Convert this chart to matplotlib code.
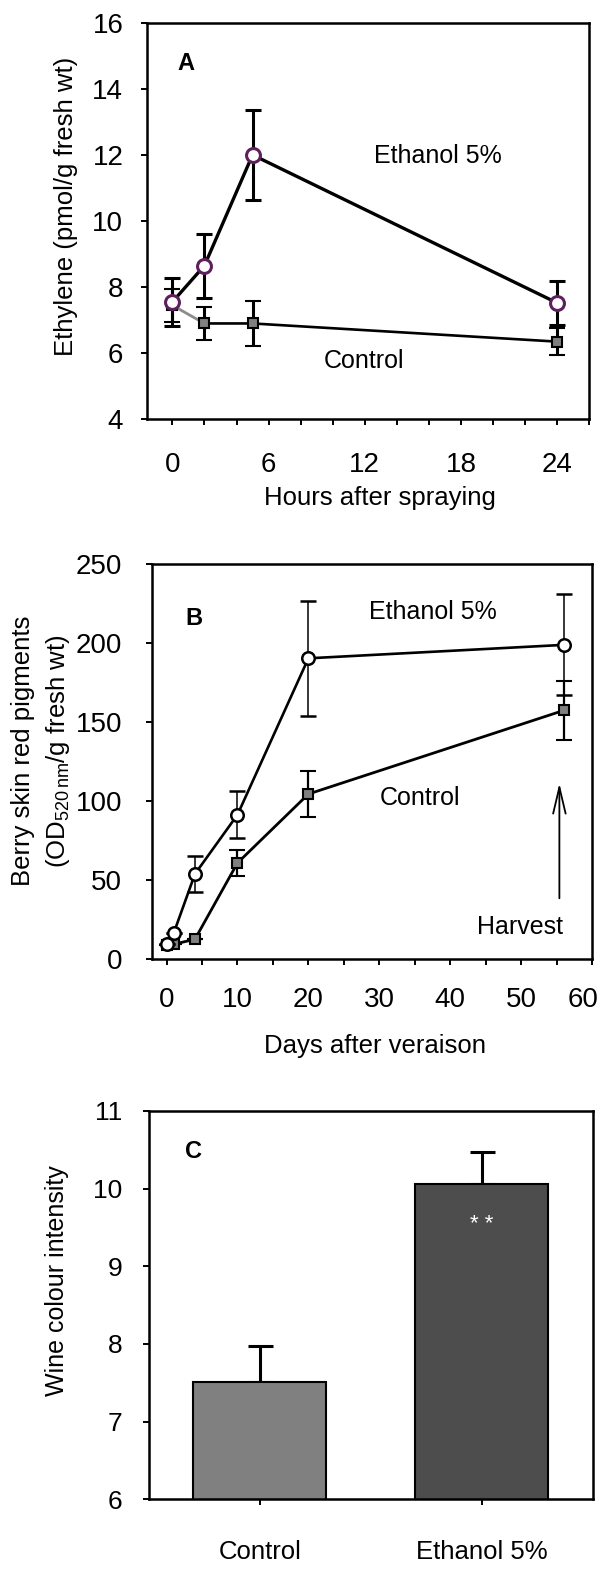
"""
Three stacked panels: ethylene after spraying (A), berry skin red pigments (B)
and wine colour intensity (C), control vs ethanol 5%.
"""
import matplotlib
matplotlib.use("Agg")
import matplotlib.pyplot as plt

plt.rcParams['font.family'] = ['Liberation Sans', 'DejaVu Sans']
plt.rcParams['mathtext.fontset'] = 'custom'
plt.rcParams['mathtext.rm'] = 'Liberation Sans'
plt.rcParams['mathtext.it'] = 'Liberation Sans:italic'

# Panel A: ethylene (pmol/g fresh wt) vs hours after spraying
hours = [0, 2, 5, 24]
eth_a = [7.55, 8.65, 12.0, 7.52]
eth_a_err = [0.72, 0.97, 1.37, 0.67]
ctrl_a = [7.45, 6.9, 6.9, 6.35]
ctrl_a_err = [0.5, 0.5, 0.67, 0.4]

# Panel B: red pigments vs days after veraison
days = [0, 1, 4, 10, 20, 56]
eth_b = [10, 16.5, 54, 91.5, 190.5, 199]
eth_b_err = [0, 0, 11.6, 15, 36.4, 32]
ctrl_b = [9, 9.5, 12.7, 61, 104.6, 157.5]
ctrl_b_err = [0, 0, 0, 8.2, 14.6, 18.5]
day_ticks = [0, 10, 20, 30, 40, 50, 60]

# Panel C: wine colour intensity
groups = ['Control', 'Ethanol 5%']
wine = [7.51, 10.06]
wine_err = [0.47, 0.41]
bar_colors = ['#808080', '#4d4d4d']

W, H = 602, 1593


def px_axes(fig, left, top, right, bottom):
    return fig.add_axes([left / W, 1 - bottom / H, (right - left) / W, (bottom - top) / H])


def style_axes(ax, xpad, ypad, size):
    for s in ax.spines.values():
        s.set_linewidth(1.8)
    ax.tick_params(which='both', direction='out', length=4.3, width=1.4,
                   labelsize=size)
    ax.tick_params(axis='x', which='both', pad=xpad, top=False)
    ax.tick_params(axis='y', which='both', pad=ypad, right=False)


fig = plt.figure(figsize=(W / 100, H / 100), dpi=100)

# ---------------- A ----------------
ax = px_axes(fig, 146.7, 22.7, 589.3, 419.3)
ax.plot(hours[:2], ctrl_a[:2], color='#8c8c8c', lw=2.0, zorder=2)
ax.plot(hours[1:], ctrl_a[1:], color='black', lw=1.9, zorder=2)
ax.errorbar(hours, ctrl_a, yerr=ctrl_a_err, fmt='s', ms=6.8, mfc='#808080',
            mec='black', mew=1.5, ecolor='black', elinewidth=2.2, capsize=6,
            capthick=2.2, zorder=3)
ax.errorbar(hours, eth_a, yerr=eth_a_err, fmt='-o', color='black', lw=2.4,
            ms=10, mfc='white', mec='#5e1f5e', mew=2.2, ecolor='black',
            elinewidth=2.2, capsize=6, capthick=2.2, zorder=4)
ax.set_xlim(-1.6, 26)
ax.set_ylim(4, 16)
ax.set_xticks([0, 6, 12, 18, 24])
ax.set_xticks(range(0, 27, 2), minor=True)
ax.set_yticks(range(4, 17, 2))
style_axes(ax, 19, 12.5, 20)
ax.set_ylabel('Ethylene (pmol/g fresh wt)', fontsize=18.5)
ax.yaxis.set_label_coords(-0.156, 0.538)
ax.set_xlabel('Hours after spraying', fontsize=18.5, va='baseline')
ax.xaxis.set_label_coords(0.527, -0.216)
ax.text(0.29, 14.77, 'A', fontsize=17, fontweight='bold', va='center', ha='left')
ax.text(12.55, 11.97, 'Ethanol 5%', fontsize=18, va='center', ha='left')
ax.text(9.43, 5.76, 'Control', fontsize=18, va='center', ha='left')

# ---------------- B ----------------
ax = px_axes(fig, 151.7, 564.3, 592.0, 959.3)
ax.errorbar(days, ctrl_b, yerr=ctrl_b_err, fmt='-s', color='black', lw=2.0,
            ms=7.8, mfc='#808080', mec='black', mew=1.5, ecolor='black',
            elinewidth=1.6, capsize=6, capthick=1.6, zorder=3)
ax.errorbar(days, eth_b, yerr=eth_b_err, fmt='-o', color='black', lw=1.9,
            ms=9, mfc='white', mec='black', mew=1.8, ecolor='black',
            elinewidth=1.1, capsize=6, capthick=1.4, zorder=4)
ax.set_xlim(-2.1, 60)
ax.set_ylim(0, 250)
ax.set_xticks(day_ticks)
# last label sits against the figure edge, so it is drawn right-aligned below
ax.set_xticklabels([str(d) for d in day_ticks[:-1]] + [''])
ax.set_xticks(range(0, 61, 5), minor=True)
ax.set_yticks(range(0, 251, 50))
style_axes(ax, 15.4, 17, 20)
ax.annotate(str(day_ticks[-1]), xy=(day_ticks[-1], 0),
            xycoords=('data', 'axes fraction'), xytext=(4.5, -19.7),
            textcoords='offset points', ha='right', va='top', fontsize=20)
ax.text(-0.2916, 0.527, 'Berry skin red pigments', transform=ax.transAxes,
        rotation=90, fontsize=18.5, ha='center', va='center')
ax.text(-0.2128, 0.527, r'(OD$_{\mathrm{520\,nm}}$/g fresh wt)',
        transform=ax.transAxes, rotation=90, fontsize=18.5,
        ha='center', va='center')
ax.set_xlabel('Days after veraison', fontsize=18.5, va='baseline')
ax.xaxis.set_label_coords(0.508, -0.237)
ax.text(2.7, 216, 'B', fontsize=17, fontweight='bold', va='center', ha='left')
ax.text(28.5, 220, 'Ethanol 5%', fontsize=18, va='center', ha='left')
ax.text(30.1, 102.4, 'Control', fontsize=18, va='center', ha='left')
ax.text(43.85, 20.6, 'Harvest', fontsize=18, va='center', ha='left')
ax.annotate('', xy=(55.4, 111.4), xytext=(55.4, 38.6),
            arrowprops=dict(arrowstyle='->,head_length=1.9,head_width=0.45',
                            lw=1.3, color='black', mutation_scale=10,
                            shrinkA=0, shrinkB=0))

# ---------------- C ----------------
ax = px_axes(fig, 149, 1111, 592.7, 1499.3)
xpos = range(len(groups))
ax.bar(xpos, wine, width=0.6, bottom=0, color=bar_colors, edgecolor='black',
       linewidth=1.5, zorder=2)
ax.errorbar(xpos, wine, yerr=[[0, 0], wine_err], fmt='none', ecolor='black',
            elinewidth=2.2, capsize=9, capthick=2.2, zorder=1)
ax.set_xlim(-0.5, 1.5)
ax.set_ylim(6, 11)
ax.set_xticks(list(xpos))
ax.set_xticklabels(groups)
ax.set_yticks(range(6, 12))
style_axes(ax, 25, 15, 19)
ax.tick_params(axis='x', labelsize=18.5)
ax.set_ylabel('Wine colour intensity', fontsize=18)
ax.yaxis.set_label_coords(-0.18, 0.563)
ax.text(-0.338, 10.48, 'C', fontsize=17, fontweight='bold', va='center', ha='left')
ax.text(1, 9.54, '* *', color='white', fontsize=16, ha='center', va='center')

fig.savefig('out.png', dpi=100)
